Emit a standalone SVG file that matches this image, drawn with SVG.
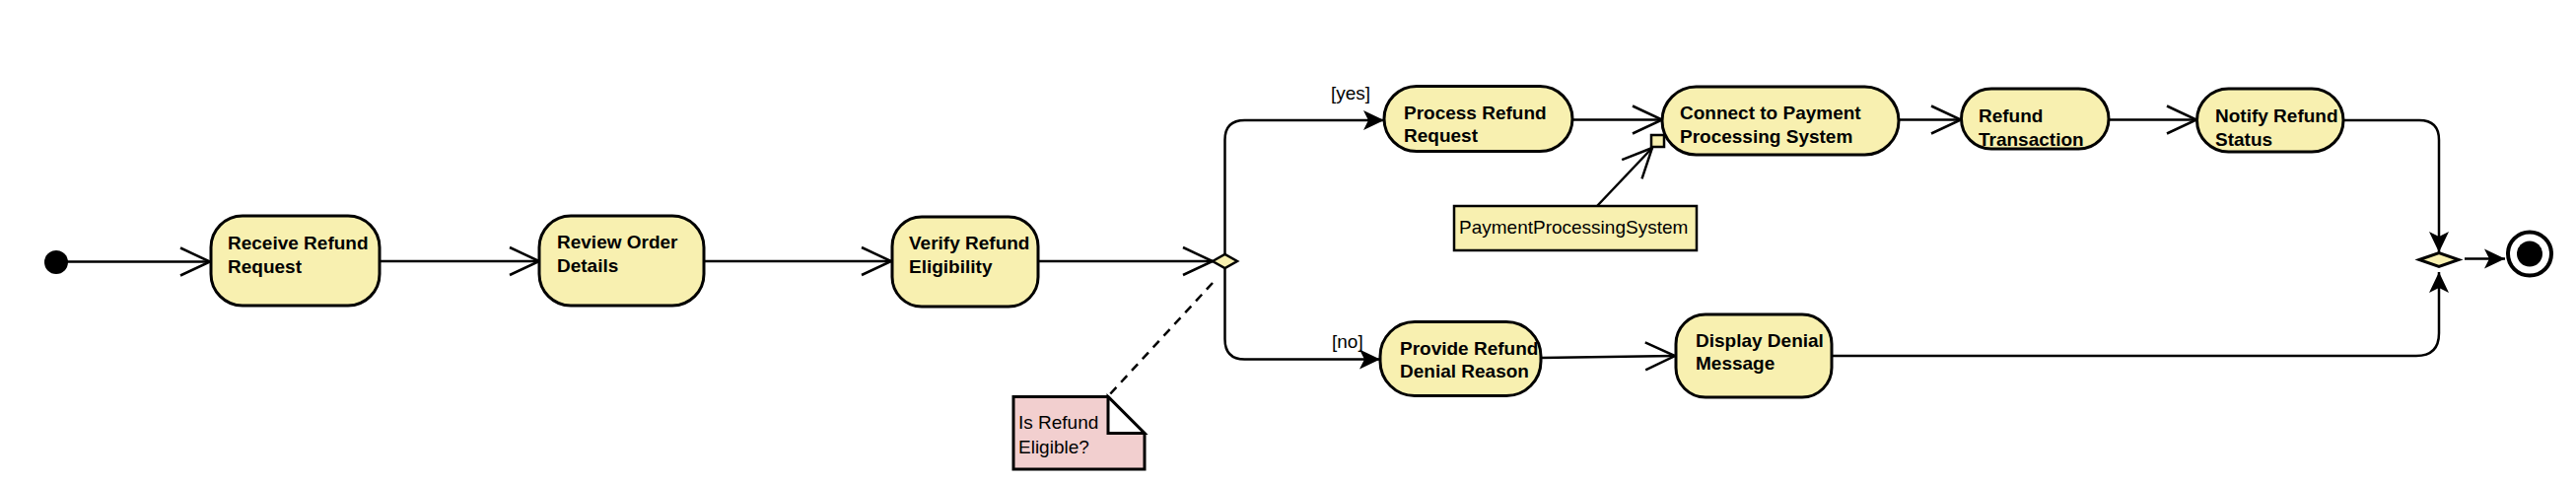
<svg xmlns="http://www.w3.org/2000/svg" width="2613" height="490" viewBox="0 0 2613 490">
<defs>
<style>
.node{fill:#f8f0b0;stroke:#000;stroke-width:3}
.lbl{font-family:"Liberation Sans",Arial,sans-serif;font-size:19px;font-weight:bold;fill:#000}
.txt{font-family:"Liberation Sans",Arial,sans-serif;font-size:19px;fill:#000}
.edge{fill:none;stroke:#000;stroke-width:2.5}
.dash{fill:none;stroke:#000;stroke-width:2.5;stroke-dasharray:9 7}
</style>
<marker id="open" markerUnits="userSpaceOnUse" markerWidth="34" markerHeight="32" refX="31" refY="15" orient="auto" overflow="visible">
<path d="M1,1 L31,15 L1,29" fill="none" stroke="#000" stroke-width="2.5"/>
</marker>
<marker id="fill" markerUnits="userSpaceOnUse" markerWidth="22" markerHeight="22" refX="21" refY="10" orient="auto" overflow="visible">
<path d="M0,0 L21,10 L0,20 L5,10 Z" fill="#000"/>
</marker>
</defs>
<rect width="2613" height="490" fill="#fff"/>
<g id="connectors">
<path class="edge" d="M65,265.5 L213,265.5" marker-end="url(#open)"/>
<path class="edge" d="M385,265 L547,265" marker-end="url(#open)"/>
<path class="edge" d="M714,265 L904,265" marker-end="url(#open)"/>
<path class="edge" d="M1053,265 L1230,265" marker-end="url(#open)"/>
<path class="edge" d="M1242.5,258 L1242.5,142 Q1242.5,122 1262.5,122 L1404,122" marker-end="url(#fill)"/>
<path class="edge" d="M1242.5,272 L1242.5,344 Q1242.5,364.5 1262.5,364.5 L1400,364.5" marker-end="url(#fill)"/>
<path class="edge" d="M1595,121.5 L1686,121.5" marker-end="url(#open)"/>
<path class="edge" d="M1926,121.5 L1989,121.5" marker-end="url(#open)"/>
<path class="edge" d="M2139,121.5 L2228,121.5" marker-end="url(#open)"/>
<path class="edge" d="M1563,363 L1699,361" marker-end="url(#open)"/>
<path class="edge" d="M1620.5,208.5 L1676,150" marker-end="url(#open)"/>
<path class="edge" d="M2377,122 L2454,122 Q2474,122 2474,142 L2474,256" marker-end="url(#fill)"/>
<path class="edge" d="M1858,361 L2451,361 Q2474,361 2474,338 L2474,276" marker-end="url(#fill)"/>
<path class="edge" d="M2500,262.5 L2541,262.5" marker-end="url(#fill)"/>
<path class="dash" d="M1230,287 L1124,402"/>
</g>
<g id="start"><circle cx="57" cy="266" r="12" fill="#000"/></g>
<g id="receive"><rect class="node" x="214" y="219" width="171" height="91" rx="32"/><text class="lbl" x="231" y="253">Receive Refund</text><text class="lbl" x="231" y="277">Request</text></g>
<g id="review"><rect class="node" x="547" y="219" width="167" height="91" rx="32"/><text class="lbl" x="565" y="252">Review Order</text><text class="lbl" x="565" y="276">Details</text></g>
<g id="verify"><rect class="node" x="905" y="220" width="148" height="91" rx="30"/><text class="lbl" x="922" y="253">Verify Refund</text><text class="lbl" x="922" y="277">Eligibility</text></g>
<g id="decision"><path d="M1230,265 L1242.5,258 L1255,265 L1242.5,272 Z" fill="#f8f0b0" stroke="#000" stroke-width="2.5"/></g>
<g id="process"><rect class="node" x="1404" y="87.5" width="191" height="66" rx="33"/><text class="lbl" x="1424" y="120.5">Process Refund</text><text class="lbl" x="1424" y="144">Request</text></g>
<g id="connect"><rect class="node" x="1686" y="88" width="240" height="69" rx="34.5"/><text class="lbl" x="1704" y="120.5">Connect to Payment</text><text class="lbl" x="1704" y="145">Processing System</text></g>
<g id="pin"><rect x="1675" y="137" width="13" height="12" fill="#f8f0b0" stroke="#000" stroke-width="2.5"/></g>
<g id="object"><rect x="1475" y="209" width="246" height="45" fill="#f8f0b0" stroke="#000" stroke-width="2.5"/><text class="txt" x="1480" y="237">PaymentProcessingSystem</text></g>
<g id="refund"><rect class="node" x="1989.5" y="90" width="149.5" height="61" rx="30.5"/><text class="lbl" x="2007" y="124">Refund</text><text class="lbl" x="2007" y="148">Transaction</text></g>
<g id="notify"><rect class="node" x="2228.5" y="90" width="148.5" height="64" rx="32"/><text class="lbl" x="2247" y="124">Notify Refund</text><text class="lbl" x="2247" y="148">Status</text></g>
<g id="provide"><rect class="node" x="1400" y="326.5" width="163" height="75" rx="35"/><text class="lbl" x="1420" y="360">Provide Refund</text><text class="lbl" x="1420" y="383">Denial Reason</text></g>
<g id="display"><rect class="node" x="1700" y="319" width="158" height="84" rx="30"/><text class="lbl" x="1720" y="352">Display Denial</text><text class="lbl" x="1720" y="375">Message</text></g>
<g id="merge"><path d="M2454,263.5 L2474,256.5 L2494,263.5 L2474,270.5 Z" fill="#f8f0b0" stroke="#000" stroke-width="3"/></g>
<g id="end"><circle cx="2566" cy="257.5" r="22" fill="#fff" stroke="#000" stroke-width="4"/><circle cx="2566" cy="257.5" r="13" fill="#000"/></g>
<g id="note"><path d="M1028,402.5 L1124,402.5 L1161,439.5 L1161,476 L1028,476 Z" fill="#f2cfcf" stroke="#000" stroke-width="3"/><path d="M1124,402.5 L1124,439.5 L1161,439.5 Z" fill="#fff" stroke="#000" stroke-width="3" stroke-linejoin="miter"/><text class="txt" x="1033" y="435">Is Refund</text><text class="txt" x="1033" y="460">Eligible?</text></g>
<g id="guards"><text class="txt" x="1350" y="101">[yes]</text><text class="txt" x="1351" y="353">[no]</text></g>
</svg>
